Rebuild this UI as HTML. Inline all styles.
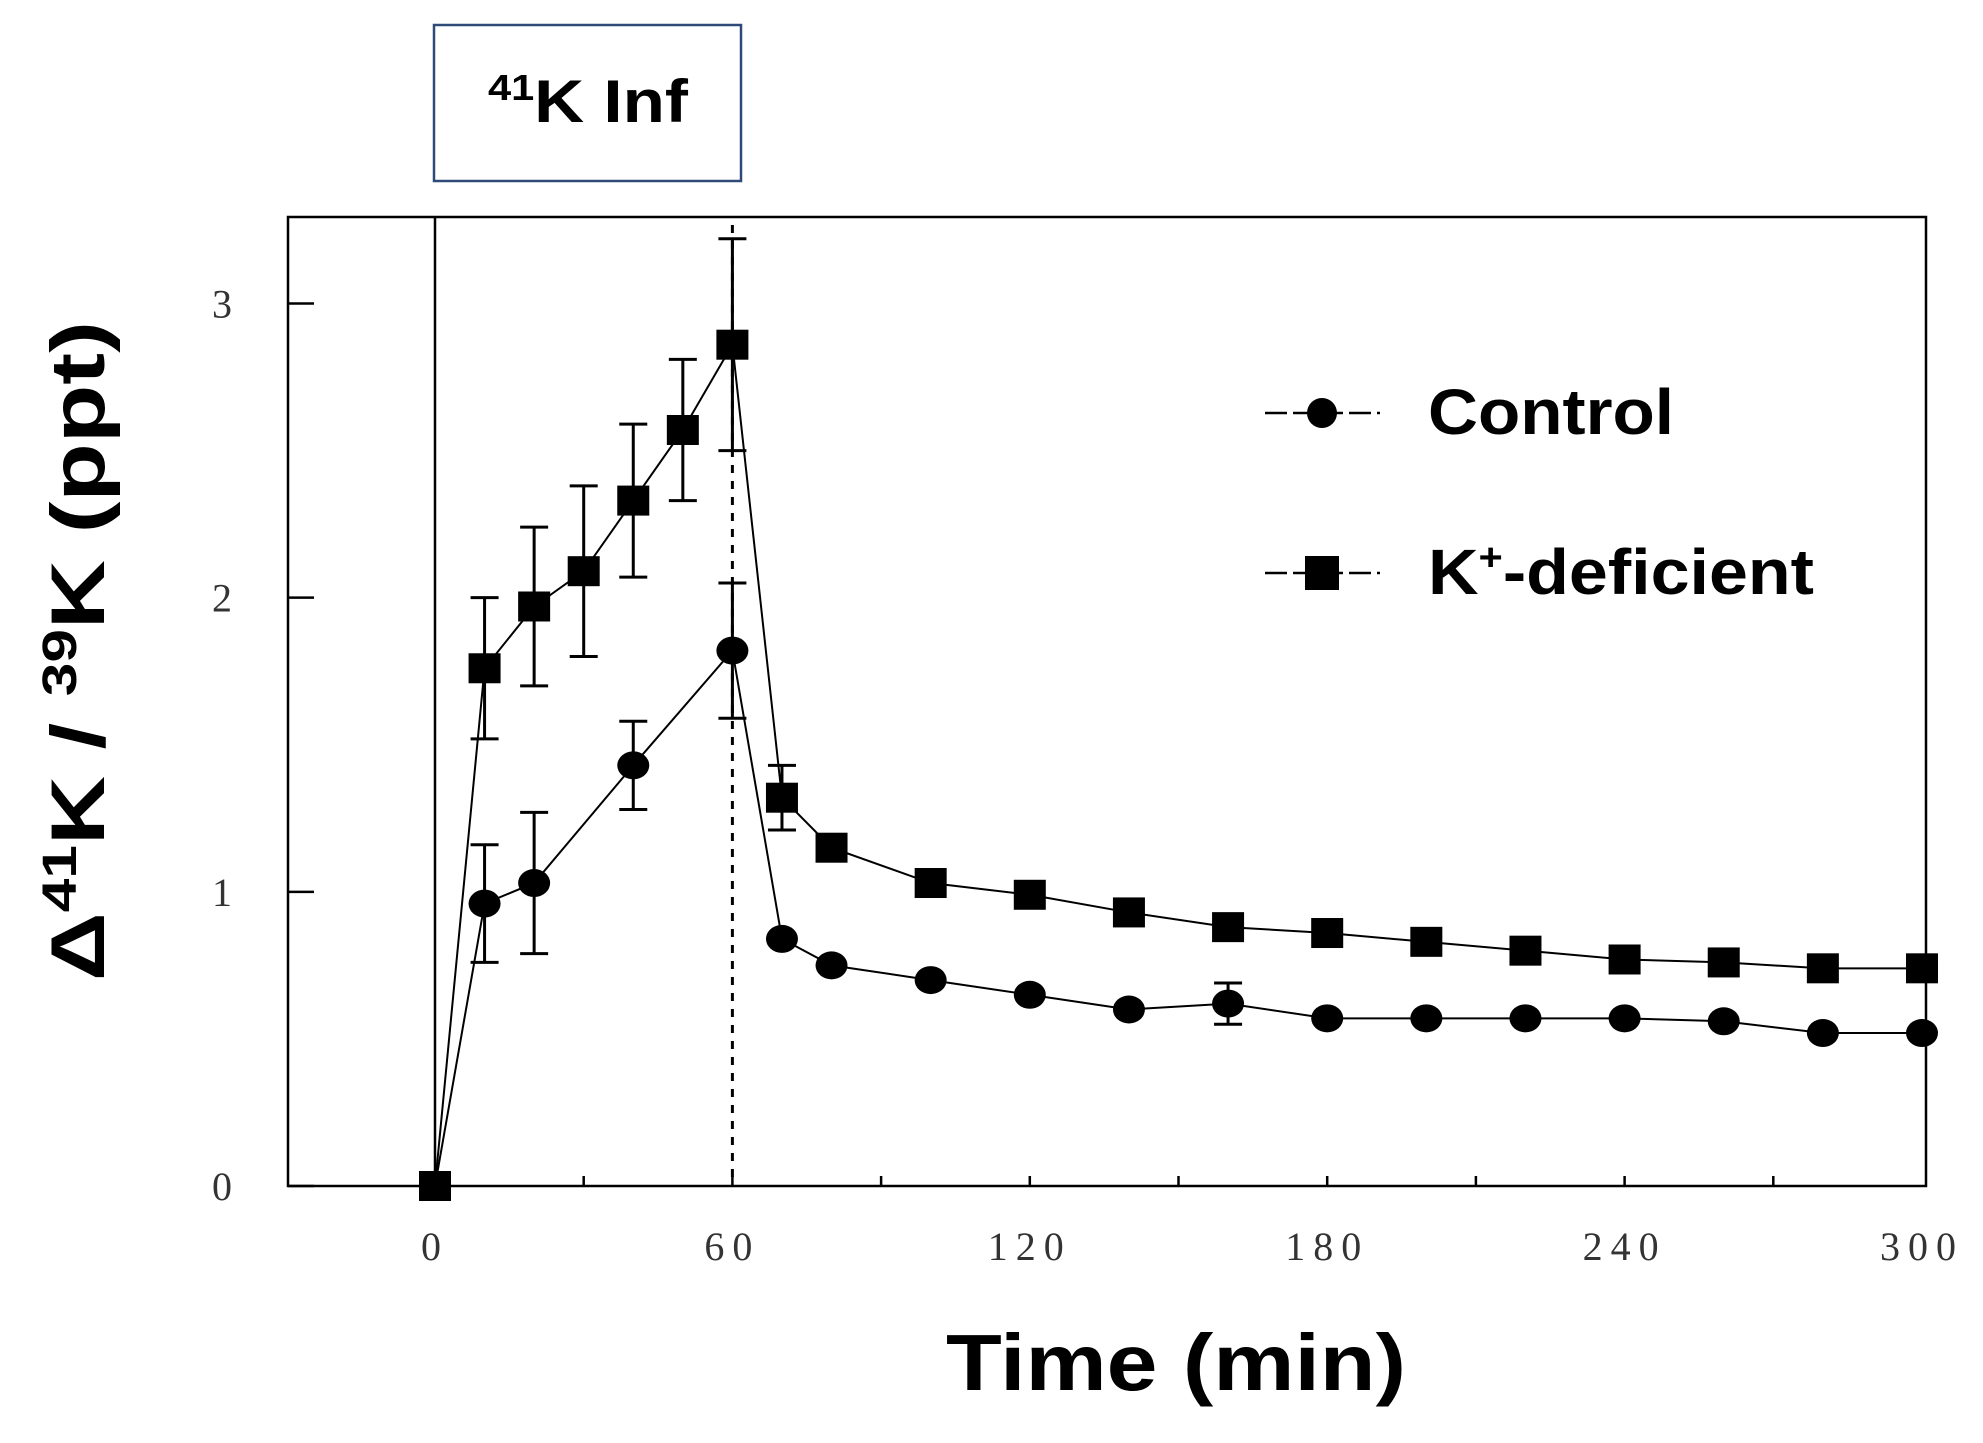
<!DOCTYPE html>
<html><head><meta charset="utf-8"><style>html,body{margin:0;padding:0;background:#fff}svg{display:block}</style></head>
<body>
<svg id="chart" width="1983" height="1443" viewBox="0 0 1983 1443" xmlns="http://www.w3.org/2000/svg">
<rect x="0" y="0" width="1983" height="1443" fill="#fff"/>
<rect x="434" y="25" width="307" height="156" fill="none" stroke="#2f4a78" stroke-width="2.5"/>
<text x="588" y="122" text-anchor="middle" font-family="Liberation Sans, sans-serif" font-weight="bold" font-size="60" textLength="200" lengthAdjust="spacingAndGlyphs"><tspan font-size="36" dy="-22">41</tspan><tspan dy="22">K Inf</tspan></text>
<g id="axes"></g>
<g id="marks"></g>
<text x="1176" y="1390" text-anchor="middle" font-family="Liberation Sans, sans-serif" font-weight="bold" font-size="80" textLength="460" lengthAdjust="spacingAndGlyphs">Time (min)</text>
<text transform="translate(104,651) rotate(-90)" text-anchor="middle" font-family="Liberation Sans, sans-serif" font-weight="bold" font-size="76" textLength="660" lengthAdjust="spacingAndGlyphs">Δ<tspan font-size="48" dy="-28">41</tspan><tspan dy="28">K / </tspan><tspan font-size="48" dy="-28">39</tspan><tspan dy="28">K (ppt)</tspan></text>
<g>
<line x1="1265" y1="413" x2="1380" y2="413" stroke="#000" stroke-width="2.5" stroke-dasharray="22 6"/>
<circle cx="1322" cy="413" r="15" fill="#000"/>
<text x="1428" y="434" font-family="Liberation Sans, sans-serif" font-weight="bold" font-size="64" textLength="246" lengthAdjust="spacingAndGlyphs">Control</text>
<line x1="1265" y1="573" x2="1380" y2="573" stroke="#000" stroke-width="2.5" stroke-dasharray="22 6"/>
<rect x="1305" y="556" width="34" height="34" fill="#000"/>
<text x="1428" y="594" font-family="Liberation Sans, sans-serif" font-weight="bold" font-size="64" textLength="386" lengthAdjust="spacingAndGlyphs">K<tspan font-size="38" dy="-24">+</tspan><tspan dy="24">-deficient</tspan></text>
</g>
</svg>
<script>
const ctrlX = [0,10,20,40,60,70,80,100,120,140,160,180,200,220,240,260,280,300];
const ctrlY = [0,0.96,1.03,1.43,1.82,0.84,0.75,0.70,0.65,0.60,0.62,0.57,0.57,0.57,0.57,0.56,0.52,0.52];
const ctrlErr = [0,0.20,0.24,0.15,0.23,0,0,0,0,0,0.07,0,0,0,0,0,0,0];
const kX = [0,10,20,30,40,50,60,70,80,100,120,140,160,180,200,220,240,260,280,300];
const kY = [0,1.76,1.97,2.09,2.33,2.57,2.86,1.32,1.15,1.03,0.99,0.93,0.88,0.86,0.83,0.80,0.77,0.76,0.74,0.74];
const kErr = [0,0.24,0.27,0.29,0.26,0.24,0.36,0.11,0,0,0,0,0,0,0,0,0,0,0,0];
const xTicks = [0,60,120,180,240,300];
const yTicks = [0,1,2,3];
const NS='http://www.w3.org/2000/svg';
const X0=435,X1=1922,Y0=1186,Y3=303.5;
const sx=v=>X0+(X1-X0)*v/300;
const sy=v=>Y0-(Y0-Y3)*v/3;
function mk(tag,attrs,parent){const e=document.createElementNS(NS,tag);for(const k in attrs)e.setAttribute(k,attrs[k]);parent.appendChild(e);return e;}
const axes=document.getElementById('axes'), marks=document.getElementById('marks');
let f=mk('rect',{x:288,y:217,width:1638,height:969,fill:'none',stroke:'#000','stroke-width':2.5},axes);


let il=mk('line',{x1:sx(0),y1:217,x2:sx(0),y2:Y0,stroke:'#000','stroke-width':2.5},axes);


let dl=mk('line',{x1:sx(60),y1:225,x2:sx(60),y2:Y0,stroke:'#000','stroke-width':3,'stroke-dasharray':'8 8'},axes);


yTicks.forEach(v=>{
  let t=mk('line',{x1:288,y1:sy(v),x2:314,y2:sy(v),stroke:'#000','stroke-width':2.5},axes);
  
  
  let l=mk('text',{x:222,y:sy(v)+14,'text-anchor':'middle','font-family':'Liberation Serif, serif','font-size':40,fill:'#333'},axes);
  l.textContent=v;
  
  
});
for(let v=30;v<300;v+=30){
  let t=mk('line',{x1:sx(v),y1:Y0,x2:sx(v),y2:Y0-10,stroke:'#000','stroke-width':2.5},axes);
  
  
}
xTicks.forEach(v=>{
  let l=mk('text',{x:sx(v),y:1260,'text-anchor':'middle','font-family':'Liberation Serif, serif','font-size':40,'letter-spacing':8,fill:'#333'},axes);
  l.textContent=v;
  
  
});
function series(xs,ys,es,name,square){
  const pts=xs.map((x,i)=>sx(x)+','+sy(ys[i])).join(' ');
  let pl=mk('polyline',{points:pts,fill:'none',stroke:'#000','stroke-width':2},marks);
  
  
  xs.forEach((x,i)=>{
    if(es[i]>0){
      const cx=sx(x),a=sy(ys[i]+es[i]),b=sy(ys[i]-es[i]);
      let g=mk('path',{d:`M${cx},${a}V${b}M${cx-14},${a}H${cx+14}M${cx-14},${b}H${cx+14}`,stroke:'#000','stroke-width':3,fill:'none'},marks);
      
      
    }
    let m;
    if(square) m=mk('rect',{x:sx(x)-16,y:sy(ys[i])-15,width:32,height:30,fill:'#000'},marks);
    else m=mk('ellipse',{cx:sx(x),cy:sy(ys[i]),rx:16,ry:14,fill:'#000'},marks);
    
    
  });
}
series(ctrlX,ctrlY,ctrlErr,'control',false);
series(kX,kY,kErr,'k-deficient',true);
</script>
</body></html>
